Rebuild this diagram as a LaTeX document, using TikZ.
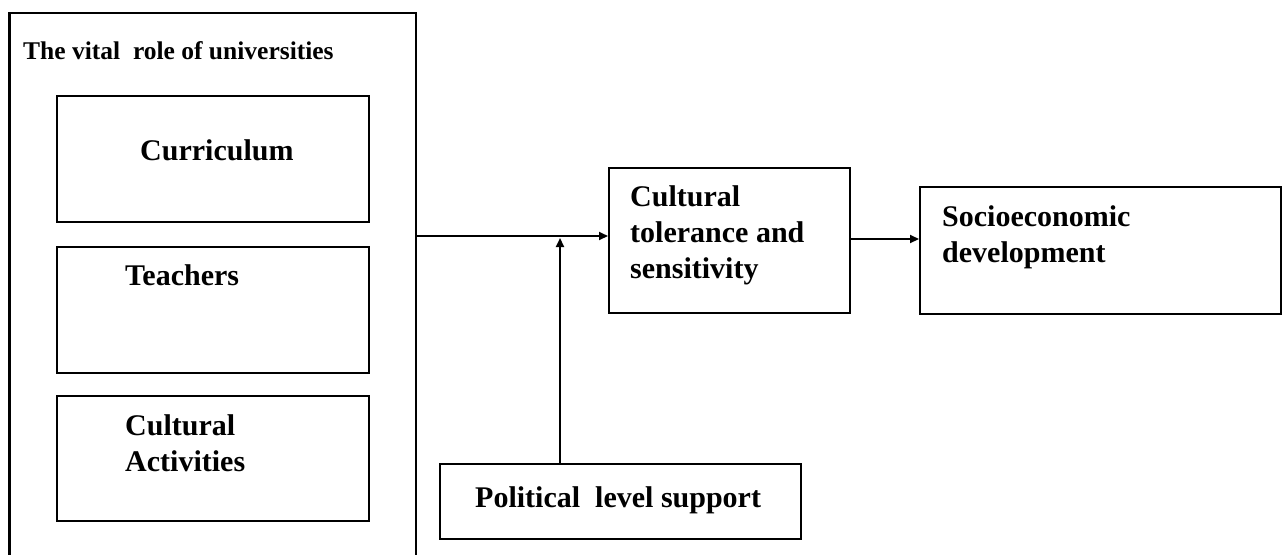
\documentclass[tikz,border=0pt]{standalone}
\usepackage{fontspec}
\setmainfont{Liberation Serif}
\usetikzlibrary{arrows.meta}
\begin{document}
\begin{tikzpicture}[x=1pt,y=-1pt,
  box/.style={draw, line width=2.1pt, anchor=north west, inner sep=0pt},
  big/.style={font=\fontsize{30}{36}\selectfont\bfseries, anchor=base west, inner sep=0pt, align=left},
  ttl/.style={font=\fontsize{25.5}{28}\selectfont\bfseries, anchor=base west, inner sep=0pt},
  arr/.style={line width=2.1pt, -{Triangle[length=9pt,width=8pt]}}]
\useasboundingbox (0,0) rectangle (1284,554);
% outer frame (open at bottom)
\coordinate (oBL) at (9.5,560);
\coordinate (oTL) at (9.5,13);
\coordinate (oTR) at (416,13);
\coordinate (oBR) at (416,560);
\draw[line width=2.1pt] (oBL) -- (oTL) -- (oTR) -- (oBR);
\node[ttl] (title) at (23,59) {The vital\ \ role of universities};
% inner boxes
\node[box, minimum width=312.5pt, minimum height=126pt] (cur) at (55.5,95) {};
\node[big] (curt) at (140,160) {Curriculum};
\node[box, minimum width=312.5pt, minimum height=126pt] (tea) at (55.5,246) {};
\node[big] (teat) at (125,285) {Teachers};
\node[box, minimum width=312.5pt, minimum height=125pt] (act) at (55.5,395) {};
\node[big] (actt) at (125,471) {Cultural\\Activities};
% middle
\node[box, minimum width=241pt, minimum height=145pt] (mid) at (608,167) {};
\node[big] (midt) at (630,278) {Cultural\\tolerance and\\sensitivity};
% right
\node[box, minimum width=361pt, minimum height=127pt] (soc) at (919,186) {};
\node[big] (soct) at (942,262) {Socioeconomic\\development};
% political
\node[box, minimum width=361pt, minimum height=75pt] (pol) at (439,463) {};
\node[big] (polt) at (475,507) {Political\ \ level support};
% connectors
\coordinate (oR) at (416,236);
\coordinate (j) at (560,238);
\coordinate (k) at (849,239);
\draw[arr] (oR) -- (mid.west |- oR);
\draw[arr] (pol.north -| j) -- (j);
\draw[arr] (mid.east |- k) -- (soc.west |- k);
\end{tikzpicture}
\end{document}
